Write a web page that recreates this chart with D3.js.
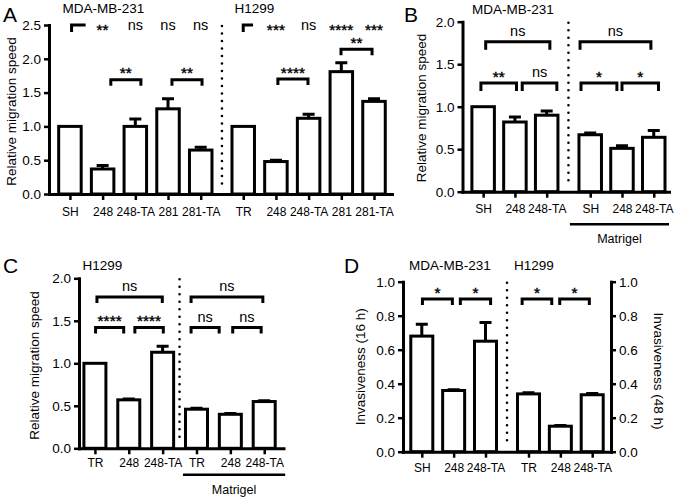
<!DOCTYPE html>
<html><head><meta charset="utf-8">
<script src="https://cdn.jsdelivr.net/npm/d3@7"></script>
<style>
body{margin:0;background:#fff}
svg{display:block}
text{font-family:"Liberation Sans",Arial,Helvetica,sans-serif;fill:#000}
</style>
</head><body>
<svg id="chart" width="677" height="498"></svg>
<script>
// ---------- DATA ----------
// Panel A
const aCats  = ["SH","248","248-TA","281","281-TA","TR","248","248-TA","281","281-TA"];
const aSlots = [0,1,2,3,4,5.3,6.3,7.3,8.3,9.3];
const aMean  = [1.0,0.37,1.0,1.26,0.65,1.0,0.48,1.12,1.81,1.37];
const aErr   = [0,0.05,0.11,0.15,0.04,0,0.02,0.06,0.13,0.04];
const aTicks = [0,0.5,1.0,1.5,2.0,2.5];
const aTopLabels = ["**","ns","ns","ns","***","ns","****","***"];
const aTopSlots  = [1,2,3,4,6.3,7.3,8.3,9.3];
const aCorners   = [[0.05,0.48],[5.3,5.6]];
const aBrackets  = [["**",1.25,2.17,1.69],["**",3.12,4.04,1.69],["****",6.36,7.28,1.70],["**",8.29,9.24,2.14]];
// Panel B
const bCats  = ["SH","248","248-TA","SH","248","248-TA"];
const bSlots = [0,1,2,3.37,4.37,5.37];
const bMean  = [1.0,0.82,0.90,0.67,0.51,0.64];
const bErr   = [0,0.06,0.05,0.02,0.03,0.08];
const bTicks = [0,0.5,1.0,1.5,2.0];
const bBrackets = [["ns",0.08,2.1,1.765],["**",-0.07,1.05,1.28],["ns",1.23,2.32,1.28],
                   ["ns",3.05,5.28,1.765],["*",3.08,4.21,1.28],["*",4.37,5.52,1.28]];
// Panel C
const cCats  = ["TR","248","248-TA","TR","248","248-TA"];
const cSlots = [0,1,2,3,4,5];
const cMean  = [1.0,0.57,1.13,0.46,0.40,0.55];
const cErr   = [0,0.01,0.07,0.01,0.01,0.01];
const cTicks = [0,0.5,1.0,1.5,2.0];
const cBrackets = [["ns",0.06,1.99,1.78],["****",0.02,0.85,1.42],["****",1.18,2.02,1.42],
                   ["ns",2.84,4.96,1.78],["ns",2.84,3.67,1.42],["ns",4.07,4.91,1.42]];
// Panel D
const dCats  = ["SH","248","248-TA","TR","248","248-TA"];
const dSlots = [0,1,2,3.35,4.35,5.35];
const dMean  = [0.68,0.36,0.65,0.34,0.15,0.335];
const dErr   = [0.07,0.005,0.11,0.007,0.004,0.008];
const dTicks = [0,0.2,0.4,0.6,0.8,1.0];
const dBrackets = [["*",0.02,0.96,0.898],["*",1.21,2.16,0.898],["*",3.15,4.08,0.898],["*",4.33,5.26,0.898]];

// ---------- DRAW ----------
const svg = d3.select("#chart");
const SW = 3;

function sigText(g, txt, cx, cy) {
  const star = txt.indexOf("*") >= 0;
  const fs = star ? 15.5 : 14.5;
  g.append("text").attr("x", cx).attr("y", cy + (star ? 0.56 : 0.27) * fs)
    .attr("text-anchor", "middle").attr("font-size", fs)
    .attr("stroke", star ? "#000" : "none").attr("stroke-width", star ? 0.4 : 0)
    .text(txt);
}

function panel(p) {
  const g = svg.append("g");
  const x = d3.scaleLinear().domain(p.xDom).range(p.xRange);
  const y = d3.scaleLinear().domain([0, p.yMax]).range(p.yRange);

  // separator dotted line
  g.append("line").attr("x1", x(p.sep)).attr("x2", x(p.sep))
    .attr("y1", y(p.yMax) + 1).attr("y2", y(0) - 4)
    .attr("stroke", "#000").attr("stroke-width", 2.6)
    .attr("stroke-linecap", "round").attr("stroke-dasharray", "0 7.5");

  // error bars
  const idx = p.means.map((d, i) => i).filter(i => p.errs[i] > 0);
  g.selectAll("path.err").data(idx).join("path")
    .attr("d", i => {
      const cx = x(p.slots[i]), y0 = y(p.means[i]), y1 = y(p.means[i] + p.errs[i]);
      return `M${cx},${y0}V${y1}M${cx - 6},${y1}H${cx + 6}`;
    })
    .attr("fill", "none").attr("stroke", "#000").attr("stroke-width", SW);

  // bars
  g.selectAll("rect.bar").data(p.means).join("rect")
    .attr("x", (d, i) => x(p.slots[i]) - p.bw / 2)
    .attr("y", d => y(d))
    .attr("width", p.bw)
    .attr("height", d => y(0) - y(d))
    .attr("fill", "#fff").attr("stroke", "#000").attr("stroke-width", SW);

  // x axis
  const xa = g.append("g").attr("transform", `translate(0,${y(0)})`)
    .call(d3.axisBottom(x).tickValues(p.slots).tickFormat((d, i) => p.cats[i])
      .tickSize(6).tickSizeOuter(0).tickPadding(p.xPad));
  // y axis
  const ya = g.append("g").attr("transform", `translate(${p.xRange[0]},0)`)
    .call(d3.axisLeft(y).tickValues(p.yTicks).tickFormat(d3.format(".1f"))
      .tickSize(5).tickSizeOuter(0).tickPadding(3));
  const axes = [xa, ya];
  if (p.right) {
    const ra = g.append("g").attr("transform", `translate(${p.xRange[1]},0)`)
      .call(d3.axisRight(y).tickValues(p.yTicks).tickFormat(d3.format(".1f"))
        .tickSize(5).tickSizeOuter(0).tickPadding(3));
    axes.push(ra);
  }
  axes.forEach(a => {
    a.attr("font-family", null).attr("font-size", null);
    a.select("path.domain").attr("stroke-width", SW).attr("stroke-linecap", "square");
    a.selectAll(".tick line").attr("stroke-width", 2.5);
  });
  xa.selectAll("text").attr("font-size", 12);
  ya.selectAll("text").attr("font-size", 13.5);
  if (p.right) axes[2].selectAll("text").attr("font-size", 13.5);

  // brackets
  g.selectAll("path.br").data(p.brackets).join("path")
    .attr("d", b => {
      const x1 = x(b[1]), x2 = x(b[2]), yy = y(b[3]);
      return `M${x1},${yy + p.drop}V${yy}H${x2}V${yy + p.drop}`;
    })
    .attr("fill", "none").attr("stroke", "#000").attr("stroke-width", SW);
  p.brackets.forEach(b => sigText(g, b[0], (x(b[1]) + x(b[2])) / 2, y(b[3]) - 10));

  // corner brackets / top labels (panel A)
  (p.corners || []).forEach(c => {
    g.append("path").attr("d", `M${x(c[0])},${y(p.yMax) + 7}V${y(p.yMax)}H${x(c[1])}`)
      .attr("fill", "none").attr("stroke", "#000").attr("stroke-width", SW);
  });
  (p.topLabels || []).forEach((t, i) => sigText(g, t, x(p.topSlots[i]), y(p.yMax) + 1));

  // matrigel
  if (p.matrigel) {
    g.append("line").attr("x1", x(p.matrigel[0])).attr("x2", x(p.matrigel[1]))
      .attr("y1", y(0) + p.mY).attr("y2", y(0) + p.mY)
      .attr("stroke", "#000").attr("stroke-width", 2.5);
    g.append("text").attr("x", (x(p.matrigel[0]) + x(p.matrigel[1])) / 2)
      .attr("y", y(0) + p.mY + 19).attr("text-anchor", "middle").attr("font-size", 12.5).text("Matrigel");
  }

  // titles
  p.titles.forEach(t => g.append("text").attr("x", t[1]).attr("y", t[2])
    .attr("text-anchor", "middle").attr("font-size", 13.5).text(t[0]));
  g.append("text").attr("x", p.letter[1]).attr("y", p.letter[2]).attr("font-size", 21).text(p.letter[0]);
  p.yTitles.forEach(t => g.append("text")
    .attr("transform", `translate(${t[1]},${t[2]}) rotate(${t[3]})`)
    .attr("dy", "0.27em").attr("text-anchor", "middle").attr("font-size", 13.5).text(t[0]));
}

panel({
  cats: aCats, slots: aSlots, means: aMean, errs: aErr, yTicks: aTicks, brackets: aBrackets,
  topLabels: aTopLabels, topSlots: aTopSlots, corners: aCorners,
  xDom: [-0.64, 9.85], xRange: [49, 392], yMax: 2.5, yRange: [194, 25], bw: 22.5, xPad: 7, drop: 6,
  sep: 4.65,
  titles: [["MDA-MB-231", 103.5, 13], ["H1299", 254.5, 13]],
  letter: ["A", 3, 22],
  yTitles: [["Relative migration speed", 12.5, 111.5, -90]]
});
panel({
  cats: bCats, slots: bSlots, means: bMean, errs: bErr, yTicks: bTicks, brackets: bBrackets,
  xDom: [-0.65, 5.85], xRange: [462.5, 669], yMax: 2, yRange: [191.7, 21.7], bw: 22.5, xPad: 7, drop: 8,
  sep: 2.685, matrigel: [2.73, 5.85], mY: 32.5,
  titles: [["MDA-MB-231", 513, 14]],
  letter: ["B", 404, 22],
  yTitles: [["Relative migration speed", 422.5, 108, -90]]
});
panel({
  cats: cCats, slots: cSlots, means: cMean, errs: cErr, yTicks: cTicks, brackets: cBrackets,
  xDom: [-0.47, 5.57], xRange: [79, 283.5], yMax: 2, yRange: [448.3, 278.3], bw: 22, xPad: 4, drop: 6,
  sep: 2.5, matrigel: [2.6, 5.62], mY: 26.5,
  titles: [["H1299", 102.5, 270]],
  letter: ["C", 3, 273],
  yTitles: [["Relative migration speed", 35.5, 365.5, -90]]
});
panel({
  cats: dCats, slots: dSlots, means: dMean, errs: dErr, yTicks: dTicks, brackets: dBrackets,
  xDom: [-0.59, 5.94], xRange: [403, 611], yMax: 1, yRange: [451.7, 281.7], bw: 22, xPad: 5.5, drop: 6,
  sep: 2.675, right: true,
  titles: [["MDA-MB-231", 450, 270], ["H1299", 534, 270]],
  letter: ["D", 344, 273],
  yTitles: [["Invasiveness (16 h)", 361.5, 366.7, -90], ["Invasiveness (48 h)", 658, 371, 90]]
});
</script>
</body></html>
